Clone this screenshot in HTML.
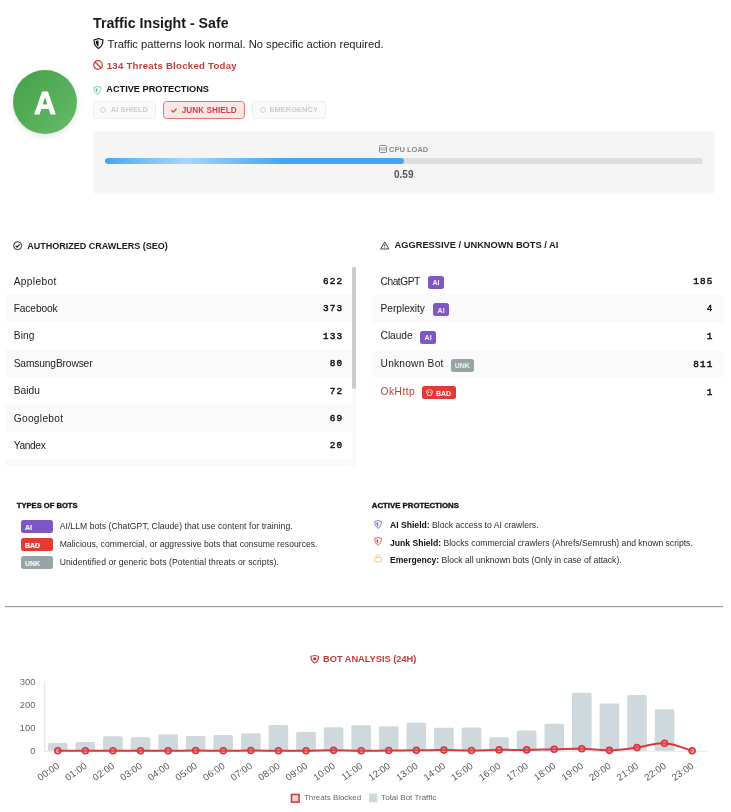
<!DOCTYPE html>
<html><head><meta charset="utf-8">
<style>
*{margin:0;padding:0;box-sizing:border-box}
html,body{width:731px;height:812px;overflow:hidden;background:#fff}
body{font-family:"Liberation Sans",sans-serif;position:relative;color:#222}
.a{position:absolute}
.t{position:absolute;line-height:1;white-space:nowrap}
.b{font-weight:bold}
.mono{font-family:"Liberation Mono",monospace}
svg{position:absolute;overflow:visible}
#root{position:absolute;left:0;top:0;width:731px;height:812px;will-change:transform}
</style></head><body>
<div id="root">

<!-- avatar -->
<div class="a" style="left:13px;top:70px;width:64px;height:64px;border-radius:50%;background:linear-gradient(135deg,#43a047,#66bb6a);box-shadow:0 2px 6px rgba(0,0,0,.12)"></div>
<div class="t b" style="left:13px;top:88.45px;width:64px;text-align:center;font-size:30.5px;color:#fff;-webkit-text-stroke:0.8px #fff">A</div>

<!-- header text -->
<div class="t b" style="left:93px;top:16px;font-size:14.2px;color:#1a1a1a">Traffic Insight - Safe</div>
<svg style="left:93px;top:38px" width="11" height="11" viewBox="0 0 16 16"><path d="M8 0.8 C6 1.8 3.6 2.3 1.6 2.5 C1.4 7.5 3.2 12.6 8 15.2 C12.8 12.6 14.6 7.5 14.4 2.5 C12.4 2.3 10 1.8 8 0.8Z" fill="none" stroke="#111" stroke-width="1.7" stroke-linejoin="round"/><path d="M8 3.2 C6.6 3.8 5 4.2 4 4.3 C4 8 5.2 11 8 12.8Z" fill="#111"/></svg>
<div class="t" style="left:107.5px;top:38.5px;font-size:11.2px;color:#222">Traffic patterns look normal. No specific action required.</div>

<svg style="left:93px;top:60px" width="10" height="10" viewBox="0 0 10 10"><circle cx="5" cy="5" r="4.3" fill="none" stroke="#c84040" stroke-width="1.2"/><path d="M2 2 L8 8" stroke="#c84040" stroke-width="1.2"/></svg>
<div class="t b" style="left:106.7px;top:60.5px;font-size:9.6px;letter-spacing:0.27px;color:#c43c3c">134 Threats Blocked Today</div>

<svg style="left:93px;top:85.8px" width="8.8" height="8.8" viewBox="0 0 16 16"><path d="M8 0.8 C6 1.8 3.6 2.3 1.6 2.5 C1.4 7.5 3.2 12.6 8 15.2 C12.8 12.6 14.6 7.5 14.4 2.5 C12.4 2.3 10 1.8 8 0.8Z" fill="none" stroke="#6cc4ba" stroke-width="1.7"/><path d="M8 4 C6.8 4.5 5.6 4.8 4.8 4.9 C4.8 8 5.8 10.6 8 12Z" fill="#5ab5aa"/></svg>
<div class="t b" style="left:106.3px;top:85.1px;font-size:9.2px;color:#111">ACTIVE PROTECTIONS</div>

<!-- buttons -->
<div class="a" style="left:93.3px;top:101.2px;width:62.4px;height:17.4px;border:1px solid #eee;border-radius:3px;background:#fafafa"></div>
<svg style="left:100px;top:107px" width="6" height="6" viewBox="0 0 6 6"><circle cx="3" cy="3" r="2.4" fill="none" stroke="#ccc" stroke-width="0.9"/></svg>
<div class="t b" style="left:110.8px;top:106px;font-size:7.5px;color:#ccc">AI SHIELD</div>

<div class="a" style="left:163.1px;top:100.7px;width:81.9px;height:18px;border:1px solid #e57373;border-radius:3.5px;background:#fde6e6"></div>
<svg style="left:170.5px;top:108px" width="6" height="5" viewBox="0 0 6 5"><path d="M0.5 2.3 L2.2 4.1 L5.5 0.7" fill="none" stroke="#c94444" stroke-width="1.25"/></svg>
<div class="t b" style="left:181.8px;top:106.9px;font-size:8.2px;letter-spacing:0.02px;color:#c94444">JUNK SHIELD</div>

<div class="a" style="left:252.2px;top:101.2px;width:73.8px;height:17.4px;border:1px solid #eee;border-radius:3px;background:#fafafa"></div>
<svg style="left:260px;top:107px" width="6" height="6" viewBox="0 0 6 6"><circle cx="3" cy="3" r="2.4" fill="none" stroke="#ccc" stroke-width="0.9"/></svg>
<div class="t b" style="left:269.6px;top:106px;font-size:7.5px;color:#ccc">EMERGENCY</div>

<!-- CPU card -->
<div class="a" style="left:93px;top:131px;width:622.1px;height:61.8px;border-radius:3px;background:#f5f5f5;border:1px solid #f8f8f8;box-shadow:0 1px 2px rgba(0,0,0,.03)"></div>
<svg style="left:379px;top:144.9px" width="8" height="8" viewBox="0 0 8 8"><rect x="0.5" y="0.5" width="7" height="7" rx="1" fill="none" stroke="#8a8a8a" stroke-width="1"/><rect x="1" y="2.3" width="6" height="3.4" fill="#c8c8c8"/></svg>
<div class="t b" style="left:389.1px;top:145.8px;font-size:7.5px;color:#888">CPU LOAD</div>
<div class="a" style="left:105px;top:158px;width:598px;height:6px;border-radius:3px;background:#dedede"></div>
<div class="a" style="left:105px;top:158px;width:299px;height:6px;border-radius:3px;background:linear-gradient(90deg,#42a5f5 0%,#6fb9f7 10%,#a8d4fb 27%,#6fb9f7 45%,#42a5f5 60%,#42a5f5 100%)"></div>
<div class="t b" style="left:394px;top:170.3px;font-size:10px;color:#555">0.59</div>

<!-- LISTS -->
<svg style="left:13px;top:241px" width="9.3" height="9.3" viewBox="0 0 10 10"><circle cx="5" cy="5" r="4.3" fill="none" stroke="#222" stroke-width="1.05"/><path d="M2.9 5.1 L4.4 6.6 L7.2 3.6" fill="none" stroke="#222" stroke-width="1.2"/></svg>
<div class="t b" style="left:27.3px;top:241.6px;font-size:9px;color:#1a1a1a">AUTHORIZED CRAWLERS (SEO)</div>
<svg style="left:380px;top:240.8px" width="9.5" height="8.7" viewBox="0 0 10 9"><path d="M5 0.8 L9.3 8.3 H0.7 Z" fill="none" stroke="#333" stroke-width="0.95" stroke-linejoin="round"/><path d="M5 3.3 V5.8" stroke="#333" stroke-width="0.95"/><circle cx="5" cy="7" r="0.5" fill="#333"/></svg>
<div class="t b" style="left:394.5px;top:241.4px;font-size:9.3px;color:#1a1a1a">AGGRESSIVE / UNKNOWN BOTS / AI</div>
<div class="a" style="left:5px;top:267px;width:347px;height:199.5px;overflow:hidden;border-radius:0 0 5px 5px">
<div class="a" style="left:0;top:0.00px;width:347px;height:27.42px;border-radius:3px 0 0 3px;"></div>
<div class="t" style="left:8.7px;top:9.56px;font-size:10.2px;letter-spacing:0.343px;color:#1c1c1c">Applebot</div>
<div class="t mono"  style="right:8.90px;top:9.88px;font-size:9.3px;letter-spacing:1.1px;color:#111;-webkit-text-stroke:0.45px #111">622</div>
<div class="a" style="left:0;top:27.42px;width:347px;height:27.42px;border-radius:3px 0 0 3px;background:#fafafa;"></div>
<div class="t" style="left:8.7px;top:36.98px;font-size:10.2px;letter-spacing:-0.114px;color:#1c1c1c">Facebook</div>
<div class="t mono"  style="right:8.90px;top:37.30px;font-size:9.3px;letter-spacing:1.1px;color:#111;-webkit-text-stroke:0.45px #111">373</div>
<div class="a" style="left:0;top:54.84px;width:347px;height:27.42px;border-radius:3px 0 0 3px;"></div>
<div class="t" style="left:8.7px;top:64.40px;font-size:10.2px;letter-spacing:0.15px;color:#1c1c1c">Bing</div>
<div class="t mono"  style="right:8.90px;top:64.72px;font-size:9.3px;letter-spacing:1.1px;color:#111;-webkit-text-stroke:0.45px #111">133</div>
<div class="a" style="left:0;top:82.26px;width:347px;height:27.42px;border-radius:3px 0 0 3px;background:#fafafa;"></div>
<div class="t" style="left:8.7px;top:91.82px;font-size:10.2px;letter-spacing:-0.119px;color:#1c1c1c">SamsungBrowser</div>
<div class="t mono"  style="right:8.90px;top:92.14px;font-size:9.3px;letter-spacing:1.1px;color:#111;-webkit-text-stroke:0.45px #111">80</div>
<div class="a" style="left:0;top:109.68px;width:347px;height:27.42px;border-radius:3px 0 0 3px;"></div>
<div class="t" style="left:8.7px;top:119.24px;font-size:10.2px;letter-spacing:0.025px;color:#1c1c1c">Baidu</div>
<div class="t mono"  style="right:8.90px;top:119.56px;font-size:9.3px;letter-spacing:1.1px;color:#111;-webkit-text-stroke:0.45px #111">72</div>
<div class="a" style="left:0;top:137.10px;width:347px;height:27.42px;border-radius:3px 0 0 3px;background:#fafafa;"></div>
<div class="t" style="left:8.7px;top:146.66px;font-size:10.2px;letter-spacing:0.306px;color:#1c1c1c">Googlebot</div>
<div class="t mono"  style="right:8.90px;top:146.98px;font-size:9.3px;letter-spacing:1.1px;color:#111;-webkit-text-stroke:0.45px #111">69</div>
<div class="a" style="left:0;top:164.52px;width:347px;height:27.42px;border-radius:3px 0 0 3px;"></div>
<div class="t" style="left:8.7px;top:174.08px;font-size:10.2px;letter-spacing:-0.35px;color:#1c1c1c">Yandex</div>
<div class="t mono"  style="right:8.90px;top:174.40px;font-size:9.3px;letter-spacing:1.1px;color:#111;-webkit-text-stroke:0.45px #111">20</div>
<div class="a" style="left:0;top:191.94px;width:347px;height:27.42px;border-radius:3px 0 0 3px;background:#fafafa;"></div>
</div>
<div class="a" style="left:352.3px;top:267px;width:3.8px;height:199px;background:#f9f9f9"></div>
<div class="a" style="left:352.3px;top:267px;width:3.8px;height:121.6px;border-radius:2px;background:#cbcbcb"></div>
<div class="a" style="left:372px;top:267.5px;width:352px;height:140px">
<div class="a" style="left:0;top:0.00px;width:352px;height:27.7px;border-radius:4px;"></div>
<div class="t" style="left:8.6px;top:9.06px;font-size:10.2px;letter-spacing:-0.475px;color:#1c1c1c">ChatGPT</div>
<div class="a" style="left:56.10px;top:8.00px;width:15.8px;height:13px;border-radius:2.5px;background:#7e57c2"></div>
<div class="t b" style="left:56.10px;width:15.8px;text-align:center;top:11.47px;font-size:7px;color:#f3eefc">AI</div>
<div class="t mono"  style="right:10.60px;top:9.28px;font-size:9.3px;letter-spacing:1.1px;color:#111;-webkit-text-stroke:0.45px #111">185</div>
<div class="a" style="left:0;top:27.70px;width:352px;height:27.7px;border-radius:4px;background:#fafafa;"></div>
<div class="t" style="left:8.6px;top:36.06px;font-size:10.2px;letter-spacing:-0.044px;color:#1c1c1c">Perplexity</div>
<div class="a" style="left:61.20px;top:35.70px;width:15.8px;height:13px;border-radius:2.5px;background:#7e57c2"></div>
<div class="t b" style="left:61.20px;width:15.8px;text-align:center;top:39.17px;font-size:7px;color:#f3eefc">AI</div>
<div class="t mono"  style="right:10.60px;top:36.98px;font-size:9.3px;letter-spacing:1.1px;color:#111;-webkit-text-stroke:0.45px #111">4</div>
<div class="a" style="left:0;top:55.40px;width:352px;height:27.7px;border-radius:4px;"></div>
<div class="t" style="left:8.6px;top:63.76px;font-size:10.2px;letter-spacing:-0.06px;color:#1c1c1c">Claude</div>
<div class="a" style="left:48.20px;top:63.40px;width:15.8px;height:13px;border-radius:2.5px;background:#7e57c2"></div>
<div class="t b" style="left:48.20px;width:15.8px;text-align:center;top:66.87px;font-size:7px;color:#f3eefc">AI</div>
<div class="t mono"  style="right:10.60px;top:64.68px;font-size:9.3px;letter-spacing:1.1px;color:#111;-webkit-text-stroke:0.45px #111">1</div>
<div class="a" style="left:0;top:83.10px;width:352px;height:27.7px;border-radius:4px;background:#fafafa;"></div>
<div class="t" style="left:8.6px;top:91.76px;font-size:10.2px;letter-spacing:0.215px;color:#1c1c1c">Unknown Bot</div>
<div class="a" style="left:78.90px;top:91.10px;width:22.7px;height:13px;border-radius:2.5px;background:#95a5a6"></div>
<div class="t b" style="left:78.90px;width:22.7px;text-align:center;top:94.57px;font-size:7px;color:#eef3f3">UNK</div>
<div class="t mono"  style="right:10.60px;top:92.38px;font-size:9.3px;letter-spacing:1.1px;color:#111;-webkit-text-stroke:0.45px #111">811</div>
<div class="a" style="left:0;top:110.80px;width:352px;height:27.7px;border-radius:4px;"></div>
<div class="t" style="left:8.6px;top:119.96px;font-size:10.2px;letter-spacing:0.47px;color:#b8402f">OkHttp</div>
<div class="a" style="left:50.20px;top:118.80px;width:33.8px;height:13px;border-radius:2.5px;background:#e53935"></div>
<svg style="left:54.10px;top:121.20px" width="7" height="7" viewBox="0 0 7 7"><path d="M3.5 0.5 C1.8 0.5 0.6 1.6 0.6 3.1 C0.6 4 1 4.6 1.6 5 V6.4 H5.4 V5 C6 4.6 6.4 4 6.4 3.1 C6.4 1.6 5.2 0.5 3.5 0.5Z" fill="none" stroke="#fff" stroke-width="0.8"/><circle cx="2.4" cy="3.2" r="0.6" fill="#fff"/><circle cx="4.6" cy="3.2" r="0.6" fill="#fff"/></svg>
<div class="t b" style="left:63.90px;top:122.07px;font-size:7px;color:#fff">BAD</div>
<div class="t mono"  style="right:10.60px;top:120.08px;font-size:9.3px;letter-spacing:1.1px;color:#111;-webkit-text-stroke:0.45px #111">1</div>
</div>
<!-- /LISTS -->

<!-- LEGEND -->
<div class="t b" style="left:16.8px;top:502.07px;font-size:7.6px;color:#111;-webkit-text-stroke:0.35px #111">TYPES OF BOTS</div>
<div class="a" style="left:21px;top:520.2px;width:32px;height:12.4px;border-radius:2.5px;background:#7e57c2"></div>
<div class="t b" style="left:25px;top:523.67px;font-size:7px;color:#f0eafb;-webkit-text-stroke:0.2px #f0eafb">AI</div>
<div class="t" style="left:59.7px;top:521.82px;font-size:8.6px;letter-spacing:0.054px;color:#2a2a2a">AI/LLM bots (ChatGPT, Claude) that use content for training.</div>
<div class="a" style="left:21px;top:538.3px;width:32px;height:12.4px;border-radius:2.5px;background:#e53935"></div>
<div class="t b" style="left:25px;top:541.77px;font-size:7px;color:#fff;-webkit-text-stroke:0.2px #fff">BAD</div>
<div class="t" style="left:59.7px;top:539.72px;font-size:8.6px;letter-spacing:0.028px;color:#2a2a2a">Malicious, commercial, or aggressive bots that consume resources.</div>
<div class="a" style="left:21px;top:556.3px;width:32px;height:12.4px;border-radius:2.5px;background:#95a5a6"></div>
<div class="t b" style="left:25px;top:559.77px;font-size:7px;color:#eef3f3;-webkit-text-stroke:0.2px #eef3f3">UNK</div>
<div class="t" style="left:59.7px;top:557.52px;font-size:8.6px;letter-spacing:0.08px;color:#2a2a2a">Unidentified or generic bots (Potential threats or scripts).</div>
<div class="t b" style="left:371.8px;top:502.00px;font-size:7.8px;color:#111;-webkit-text-stroke:0.35px #111">ACTIVE PROTECTIONS</div>
<svg style="left:374px;top:520px" width="8.2" height="8.8" viewBox="0 0 16 16" preserveAspectRatio="none"><path d="M8 0.8 C6 1.8 3.6 2.3 1.6 2.5 C1.4 7.5 3.2 12.6 8 15.2 C12.8 12.6 14.6 7.5 14.4 2.5 C12.4 2.3 10 1.8 8 0.8Z" fill="none" stroke="#7e57c2" stroke-width="1.6" stroke-linejoin="round"/><path d="M8 4 C6.8 4.5 5.6 4.8 4.8 4.9 C4.8 8 5.8 10.6 8 12Z" fill="#7e57c2"/></svg>
<div class="t" style="left:390px;top:521.12px;font-size:8.6px;color:#2a2a2a"><b style="color:#111">AI Shield:</b> Block access to AI crawlers.</div>
<svg style="left:374px;top:536.9px" width="8.2" height="8.8" viewBox="0 0 16 16" preserveAspectRatio="none"><path d="M8 0.8 C6 1.8 3.6 2.3 1.6 2.5 C1.4 7.5 3.2 12.6 8 15.2 C12.8 12.6 14.6 7.5 14.4 2.5 C12.4 2.3 10 1.8 8 0.8Z" fill="none" stroke="#e53935" stroke-width="1.6" stroke-linejoin="round"/><path d="M8 4 C6.8 4.5 5.6 4.8 4.8 4.9 C4.8 8 5.8 10.6 8 12Z" fill="#e53935"/></svg>
<div class="t" style="left:390px;top:538.82px;font-size:8.6px;color:#2a2a2a"><b style="color:#111">Junk Shield:</b> Blocks commercial crawlers (Ahrefs/Semrush) and known scripts.</div>
<svg style="left:374px;top:554.3px" width="8" height="8.3" viewBox="0 0 8 8.3"><path d="M2.2 3.6 V2.4 C2.2 1.3 3 0.6 4 0.6 C5 0.6 5.8 1.3 5.8 2.4 V3.6" fill="none" stroke="#f2c46d" stroke-width="0.9"/><rect x="0.6" y="3.6" width="6.8" height="4.2" rx="0.6" fill="none" stroke="#f2c46d" stroke-width="0.9"/></svg>
<div class="t" style="left:390px;top:555.62px;font-size:8.6px;color:#2a2a2a"><b style="color:#111">Emergency:</b> Block all unknown bots (Only in case of attack).</div>
<!-- /LEGEND -->

<!-- HR -->
<div class="a" style="left:5px;top:606px;width:718px;height:1px;background:#999"></div>
<div class="a" style="left:5px;top:607px;width:718px;height:1px;background:#eee"></div>

<!-- CHART -->
<svg style="left:310px;top:654.6px" width="9.4" height="8.4" viewBox="0 0 16 16" preserveAspectRatio="none"><path d="M8 0.8 C6 1.8 3.6 2.3 1.6 2.5 C1.4 7.5 3.2 12.6 8 15.2 C12.8 12.6 14.6 7.5 14.4 2.5 C12.4 2.3 10 1.8 8 0.8Z" fill="none" stroke="#c83a3e" stroke-width="1.9" stroke-linejoin="round"/><circle cx="8" cy="7.3" r="3" fill="#c83a3e"/></svg>
<div class="t b" style="left:323px;top:655.47px;font-size:9.25px;color:#c53a3e">BOT ANALYSIS (24H)</div>
<svg style="left:0;top:0" width="731" height="812" viewBox="0 0 731 812">
<line x1="44.7" y1="681.8" x2="44.7" y2="751.3" stroke="#e4e4e4" stroke-width="1"/>
<line x1="44.2" y1="751.3" x2="707" y2="751.3" stroke="#e8e8e8" stroke-width="1"/>
<text x="35.4" y="685.00" text-anchor="end" font-family="Liberation Sans" font-size="9.4" fill="#666">300</text>
<text x="35.4" y="707.90" text-anchor="end" font-family="Liberation Sans" font-size="9.4" fill="#666">200</text>
<text x="35.4" y="731.00" text-anchor="end" font-family="Liberation Sans" font-size="9.4" fill="#666">100</text>
<text x="35.4" y="753.90" text-anchor="end" font-family="Liberation Sans" font-size="9.4" fill="#666">0</text>
<path d="M48.00 750.80 V744.49 Q48.00 742.99 49.50 742.99 H66.10 Q67.60 742.99 67.60 744.49 V750.80 Z" fill="#cfd8dc"/>
<path d="M75.58 750.80 V743.57 Q75.58 742.07 77.08 742.07 H93.68 Q95.18 742.07 95.18 743.57 V750.80 Z" fill="#cfd8dc"/>
<path d="M103.16 750.80 V737.83 Q103.16 736.33 104.66 736.33 H121.26 Q122.76 736.33 122.76 737.83 V750.80 Z" fill="#cfd8dc"/>
<path d="M130.74 750.80 V738.75 Q130.74 737.25 132.24 737.25 H148.84 Q150.34 737.25 150.34 738.75 V750.80 Z" fill="#cfd8dc"/>
<path d="M158.32 750.80 V735.76 Q158.32 734.26 159.82 734.26 H176.42 Q177.92 734.26 177.92 735.76 V750.80 Z" fill="#cfd8dc"/>
<path d="M185.90 750.80 V737.60 Q185.90 736.10 187.40 736.10 H204.00 Q205.50 736.10 205.50 737.60 V750.80 Z" fill="#cfd8dc"/>
<path d="M213.48 750.80 V736.45 Q213.48 734.95 214.98 734.95 H231.58 Q233.08 734.95 233.08 736.45 V750.80 Z" fill="#cfd8dc"/>
<path d="M241.06 750.80 V734.84 Q241.06 733.34 242.56 733.34 H259.16 Q260.66 733.34 260.66 734.84 V750.80 Z" fill="#cfd8dc"/>
<path d="M268.64 750.80 V726.57 Q268.64 725.07 270.14 725.07 H286.74 Q288.24 725.07 288.24 726.57 V750.80 Z" fill="#cfd8dc"/>
<path d="M296.22 750.80 V733.46 Q296.22 731.96 297.72 731.96 H314.32 Q315.82 731.96 315.82 733.46 V750.80 Z" fill="#cfd8dc"/>
<path d="M323.80 750.80 V728.64 Q323.80 727.14 325.30 727.14 H341.90 Q343.40 727.14 343.40 728.64 V750.80 Z" fill="#cfd8dc"/>
<path d="M351.38 750.80 V726.80 Q351.38 725.30 352.88 725.30 H369.48 Q370.98 725.30 370.98 726.80 V750.80 Z" fill="#cfd8dc"/>
<path d="M378.96 750.80 V727.72 Q378.96 726.22 380.46 726.22 H397.06 Q398.56 726.22 398.56 727.72 V750.80 Z" fill="#cfd8dc"/>
<path d="M406.54 750.80 V724.28 Q406.54 722.78 408.04 722.78 H424.64 Q426.14 722.78 426.14 724.28 V750.80 Z" fill="#cfd8dc"/>
<path d="M434.12 750.80 V729.33 Q434.12 727.83 435.62 727.83 H452.22 Q453.72 727.83 453.72 729.33 V750.80 Z" fill="#cfd8dc"/>
<path d="M461.70 750.80 V729.10 Q461.70 727.60 463.20 727.60 H479.80 Q481.30 727.60 481.30 729.10 V750.80 Z" fill="#cfd8dc"/>
<path d="M489.28 750.80 V738.75 Q489.28 737.25 490.78 737.25 H507.38 Q508.88 737.25 508.88 738.75 V750.80 Z" fill="#cfd8dc"/>
<path d="M516.86 750.80 V732.09 Q516.86 730.59 518.36 730.59 H534.96 Q536.46 730.59 536.46 732.09 V750.80 Z" fill="#cfd8dc"/>
<path d="M544.44 750.80 V725.20 Q544.44 723.70 545.94 723.70 H562.54 Q564.04 723.70 564.04 725.20 V750.80 Z" fill="#cfd8dc"/>
<path d="M572.02 750.80 V694.19 Q572.02 692.69 573.52 692.69 H590.12 Q591.62 692.69 591.62 694.19 V750.80 Z" fill="#cfd8dc"/>
<path d="M599.60 750.80 V704.98 Q599.60 703.48 601.10 703.48 H617.70 Q619.20 703.48 619.20 704.98 V750.80 Z" fill="#cfd8dc"/>
<path d="M627.18 750.80 V696.48 Q627.18 694.98 628.68 694.98 H645.28 Q646.78 694.98 646.78 696.48 V750.80 Z" fill="#cfd8dc"/>
<path d="M654.76 750.80 V710.72 Q654.76 709.22 656.26 709.22 H672.86 Q674.36 709.22 674.36 710.72 V750.80 Z" fill="#cfd8dc"/>
<path d="M57.80 750.80 C68.83 750.80 74.35 750.80 85.38 750.80 C96.41 750.80 101.93 750.80 112.96 750.80 C123.99 750.80 129.51 750.80 140.54 750.80 C151.57 750.80 157.09 750.85 168.12 750.80 C179.15 750.75 184.67 750.57 195.70 750.57 C206.73 750.57 212.25 750.80 223.28 750.80 C234.31 750.80 239.83 750.57 250.86 750.57 C261.89 750.57 267.41 750.75 278.44 750.80 C289.47 750.85 294.99 750.89 306.02 750.80 C317.05 750.71 322.57 750.34 333.60 750.34 C344.63 750.34 350.15 750.75 361.18 750.80 C372.21 750.85 377.73 750.66 388.76 750.57 C399.79 750.48 405.31 750.43 416.34 750.34 C427.37 750.25 432.89 750.06 443.92 750.11 C454.95 750.16 460.47 750.62 471.50 750.57 C482.53 750.52 488.05 750.02 499.08 749.88 C510.11 749.74 515.63 750.02 526.66 749.88 C537.69 749.74 543.21 749.42 554.24 749.19 C565.27 748.96 570.80 748.50 581.82 748.73 C592.86 748.96 598.39 750.57 609.40 750.34 C620.45 750.11 625.99 749.00 636.98 747.58 C648.05 746.15 653.66 742.58 664.56 743.22 C675.72 743.87 681.11 747.77 692.14 750.80" fill="none" stroke="#d9363e" stroke-width="2"/>
<circle cx="57.80" cy="750.80" r="3" fill="rgba(235,90,90,0.55)" stroke="#d9363e" stroke-width="1.6"/>
<circle cx="85.38" cy="750.80" r="3" fill="rgba(235,90,90,0.55)" stroke="#d9363e" stroke-width="1.6"/>
<circle cx="112.96" cy="750.80" r="3" fill="rgba(235,90,90,0.55)" stroke="#d9363e" stroke-width="1.6"/>
<circle cx="140.54" cy="750.80" r="3" fill="rgba(235,90,90,0.55)" stroke="#d9363e" stroke-width="1.6"/>
<circle cx="168.12" cy="750.80" r="3" fill="rgba(235,90,90,0.55)" stroke="#d9363e" stroke-width="1.6"/>
<circle cx="195.70" cy="750.57" r="3" fill="rgba(235,90,90,0.55)" stroke="#d9363e" stroke-width="1.6"/>
<circle cx="223.28" cy="750.80" r="3" fill="rgba(235,90,90,0.55)" stroke="#d9363e" stroke-width="1.6"/>
<circle cx="250.86" cy="750.57" r="3" fill="rgba(235,90,90,0.55)" stroke="#d9363e" stroke-width="1.6"/>
<circle cx="278.44" cy="750.80" r="3" fill="rgba(235,90,90,0.55)" stroke="#d9363e" stroke-width="1.6"/>
<circle cx="306.02" cy="750.80" r="3" fill="rgba(235,90,90,0.55)" stroke="#d9363e" stroke-width="1.6"/>
<circle cx="333.60" cy="750.34" r="3" fill="rgba(235,90,90,0.55)" stroke="#d9363e" stroke-width="1.6"/>
<circle cx="361.18" cy="750.80" r="3" fill="rgba(235,90,90,0.55)" stroke="#d9363e" stroke-width="1.6"/>
<circle cx="388.76" cy="750.57" r="3" fill="rgba(235,90,90,0.55)" stroke="#d9363e" stroke-width="1.6"/>
<circle cx="416.34" cy="750.34" r="3" fill="rgba(235,90,90,0.55)" stroke="#d9363e" stroke-width="1.6"/>
<circle cx="443.92" cy="750.11" r="3" fill="rgba(235,90,90,0.55)" stroke="#d9363e" stroke-width="1.6"/>
<circle cx="471.50" cy="750.57" r="3" fill="rgba(235,90,90,0.55)" stroke="#d9363e" stroke-width="1.6"/>
<circle cx="499.08" cy="749.88" r="3" fill="rgba(235,90,90,0.55)" stroke="#d9363e" stroke-width="1.6"/>
<circle cx="526.66" cy="749.88" r="3" fill="rgba(235,90,90,0.55)" stroke="#d9363e" stroke-width="1.6"/>
<circle cx="554.24" cy="749.19" r="3" fill="rgba(235,90,90,0.55)" stroke="#d9363e" stroke-width="1.6"/>
<circle cx="581.82" cy="748.73" r="3" fill="rgba(235,90,90,0.55)" stroke="#d9363e" stroke-width="1.6"/>
<circle cx="609.40" cy="750.34" r="3" fill="rgba(235,90,90,0.55)" stroke="#d9363e" stroke-width="1.6"/>
<circle cx="636.98" cy="747.58" r="3" fill="rgba(235,90,90,0.55)" stroke="#d9363e" stroke-width="1.6"/>
<circle cx="664.56" cy="743.22" r="3" fill="rgba(235,90,90,0.55)" stroke="#d9363e" stroke-width="1.6"/>
<circle cx="692.14" cy="750.80" r="3" fill="rgba(235,90,90,0.55)" stroke="#d9363e" stroke-width="1.6"/>
<text x="58.60" y="765.3" transform="rotate(-35 58.60 765.3)" text-anchor="end" dominant-baseline="middle" font-family="Liberation Sans" font-size="9.6" fill="#555">00:00</text>
<text x="86.18" y="765.3" transform="rotate(-35 86.18 765.3)" text-anchor="end" dominant-baseline="middle" font-family="Liberation Sans" font-size="9.6" fill="#555">01:00</text>
<text x="113.76" y="765.3" transform="rotate(-35 113.76 765.3)" text-anchor="end" dominant-baseline="middle" font-family="Liberation Sans" font-size="9.6" fill="#555">02:00</text>
<text x="141.34" y="765.3" transform="rotate(-35 141.34 765.3)" text-anchor="end" dominant-baseline="middle" font-family="Liberation Sans" font-size="9.6" fill="#555">03:00</text>
<text x="168.92" y="765.3" transform="rotate(-35 168.92 765.3)" text-anchor="end" dominant-baseline="middle" font-family="Liberation Sans" font-size="9.6" fill="#555">04:00</text>
<text x="196.50" y="765.3" transform="rotate(-35 196.50 765.3)" text-anchor="end" dominant-baseline="middle" font-family="Liberation Sans" font-size="9.6" fill="#555">05:00</text>
<text x="224.08" y="765.3" transform="rotate(-35 224.08 765.3)" text-anchor="end" dominant-baseline="middle" font-family="Liberation Sans" font-size="9.6" fill="#555">06:00</text>
<text x="251.66" y="765.3" transform="rotate(-35 251.66 765.3)" text-anchor="end" dominant-baseline="middle" font-family="Liberation Sans" font-size="9.6" fill="#555">07:00</text>
<text x="279.24" y="765.3" transform="rotate(-35 279.24 765.3)" text-anchor="end" dominant-baseline="middle" font-family="Liberation Sans" font-size="9.6" fill="#555">08:00</text>
<text x="306.82" y="765.3" transform="rotate(-35 306.82 765.3)" text-anchor="end" dominant-baseline="middle" font-family="Liberation Sans" font-size="9.6" fill="#555">09:00</text>
<text x="334.40" y="765.3" transform="rotate(-35 334.40 765.3)" text-anchor="end" dominant-baseline="middle" font-family="Liberation Sans" font-size="9.6" fill="#555">10:00</text>
<text x="361.98" y="765.3" transform="rotate(-35 361.98 765.3)" text-anchor="end" dominant-baseline="middle" font-family="Liberation Sans" font-size="9.6" fill="#555">11:00</text>
<text x="389.56" y="765.3" transform="rotate(-35 389.56 765.3)" text-anchor="end" dominant-baseline="middle" font-family="Liberation Sans" font-size="9.6" fill="#555">12:00</text>
<text x="417.14" y="765.3" transform="rotate(-35 417.14 765.3)" text-anchor="end" dominant-baseline="middle" font-family="Liberation Sans" font-size="9.6" fill="#555">13:00</text>
<text x="444.72" y="765.3" transform="rotate(-35 444.72 765.3)" text-anchor="end" dominant-baseline="middle" font-family="Liberation Sans" font-size="9.6" fill="#555">14:00</text>
<text x="472.30" y="765.3" transform="rotate(-35 472.30 765.3)" text-anchor="end" dominant-baseline="middle" font-family="Liberation Sans" font-size="9.6" fill="#555">15:00</text>
<text x="499.88" y="765.3" transform="rotate(-35 499.88 765.3)" text-anchor="end" dominant-baseline="middle" font-family="Liberation Sans" font-size="9.6" fill="#555">16:00</text>
<text x="527.46" y="765.3" transform="rotate(-35 527.46 765.3)" text-anchor="end" dominant-baseline="middle" font-family="Liberation Sans" font-size="9.6" fill="#555">17:00</text>
<text x="555.04" y="765.3" transform="rotate(-35 555.04 765.3)" text-anchor="end" dominant-baseline="middle" font-family="Liberation Sans" font-size="9.6" fill="#555">18:00</text>
<text x="582.62" y="765.3" transform="rotate(-35 582.62 765.3)" text-anchor="end" dominant-baseline="middle" font-family="Liberation Sans" font-size="9.6" fill="#555">19:00</text>
<text x="610.20" y="765.3" transform="rotate(-35 610.20 765.3)" text-anchor="end" dominant-baseline="middle" font-family="Liberation Sans" font-size="9.6" fill="#555">20:00</text>
<text x="637.78" y="765.3" transform="rotate(-35 637.78 765.3)" text-anchor="end" dominant-baseline="middle" font-family="Liberation Sans" font-size="9.6" fill="#555">21:00</text>
<text x="665.36" y="765.3" transform="rotate(-35 665.36 765.3)" text-anchor="end" dominant-baseline="middle" font-family="Liberation Sans" font-size="9.6" fill="#555">22:00</text>
<text x="692.94" y="765.3" transform="rotate(-35 692.94 765.3)" text-anchor="end" dominant-baseline="middle" font-family="Liberation Sans" font-size="9.6" fill="#555">23:00</text>
<rect x="291.5" y="794.5" width="7.6" height="7.6" fill="#f6d5d5" stroke="#d9363e" stroke-width="1.6"/>
<text x="304" y="800.4" font-family="Liberation Sans" font-size="7.9" fill="#666">Threats Blocked</text>
<rect x="369" y="793.6" width="8.4" height="8.6" fill="#cfd8dc"/>
<text x="381.2" y="800.4" font-family="Liberation Sans" font-size="8" fill="#666">Total Bot Traffic</text>
</svg>
<!-- /CHART -->

</div>
</body></html>
